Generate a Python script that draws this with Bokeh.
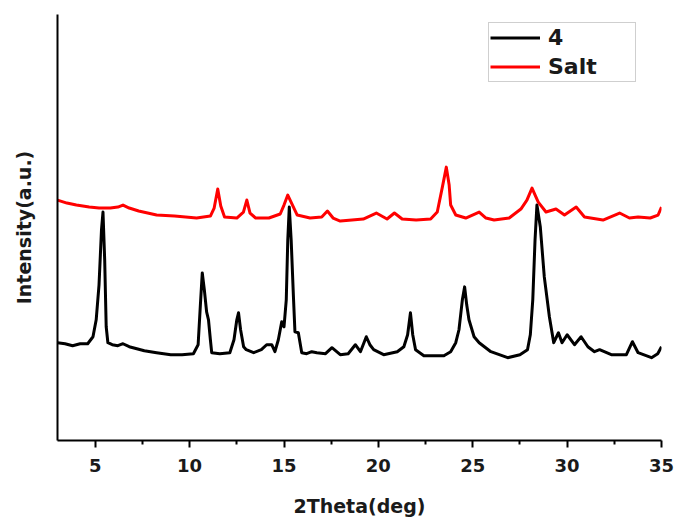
from bokeh.plotting import figure
from bokeh.models import Range1d, FixedTicker, Legend, LegendItem
from bokeh.embed import file_html
from bokeh.resources import INLINE

# Powder XRD patterns: compound 4 and the starting salt (stacked, arbitrary units)
two_theta_4 = [3.0, 3.4, 3.8, 4.2, 4.6, 4.88, 5.05, 5.2, 5.33, 5.41, 5.5, 5.58, 5.67, 5.9,
               6.2, 6.47, 6.8, 7.2, 7.6, 8.25, 9.0, 9.6, 10.2, 10.45, 10.57, 10.67, 10.78,
               10.9, 11.0, 11.1, 11.17, 11.6, 12.13, 12.35, 12.5, 12.59, 12.7, 12.86, 13.0,
               13.39, 13.8, 14.08, 14.35, 14.52, 14.7, 14.88, 15.0, 15.12, 15.2, 15.28,
               15.38, 15.5, 15.58, 15.76, 15.94, 16.2, 16.47, 16.74, 17.2, 17.54, 17.98,
               18.4, 18.78, 19.05, 19.36, 19.55, 19.75, 20.28, 21.0, 21.35, 21.55, 21.7,
               21.82, 21.97, 22.41, 23.47, 23.83, 24.1, 24.27, 24.45, 24.57, 24.68, 24.8,
               25.07, 25.34, 25.96, 26.85, 27.5, 27.9, 28.05, 28.18, 28.3, 28.4, 28.58,
               28.79, 29.06, 29.29, 29.54, 29.73, 30.0, 30.39, 30.74, 31.1, 31.45, 31.72,
               32.34, 33.14, 33.46, 33.76, 34.47, 34.8, 35.0]
intensity_4 = [98, 97, 95, 97, 97, 104, 121, 156, 211, 229, 181, 114, 98, 96,
               95, 97, 94, 92, 90, 88, 86, 86, 87, 96, 136, 168, 151,
               129, 121, 101, 88, 87, 88, 101, 121, 128, 111, 94, 91,
               88, 91, 96, 96, 89, 101, 119, 114, 141, 201, 234,
               201, 144, 109, 108, 88, 87, 89, 88, 87, 93, 86,
               87, 96, 89, 104, 96, 91, 86, 89, 94, 106, 128,
               106, 91, 85, 85, 89, 98, 111, 141, 154, 136, 121,
               104, 98, 89, 83, 86, 91, 106, 141, 201, 236, 214,
               164, 124, 98, 108, 98, 106, 96, 104, 94, 89, 91,
               86, 86, 99, 88, 83, 87, 94]

two_theta_salt = [3.0, 3.5, 4.0, 4.68, 5.2, 5.8, 6.2, 6.47, 6.8, 7.3, 8.25, 9.2, 10.37,
                  11.1, 11.3, 11.49, 11.65, 11.85, 12.5, 12.85, 13.03, 13.2, 13.5, 14.2,
                  14.8, 15.0, 15.2, 15.4, 15.7, 16.38, 17.0, 17.3, 17.6, 17.98, 18.6, 19.2,
                  19.89, 20.46, 20.85, 21.26, 22.0, 22.77, 23.12, 23.39, 23.6, 23.75, 23.83,
                  24.1, 24.63, 25.34, 25.7, 26.13, 26.93, 27.55, 27.87, 28.14, 28.47, 28.88,
                  29.41, 29.86, 30.48, 30.92, 31.9, 32.78, 33.3, 33.76, 34.4, 34.82, 35.0]
intensity_salt = [241, 238, 236, 234, 233, 233, 234, 236, 233, 230, 226, 225, 223,
                  225, 233, 252, 235, 224, 223, 229, 241, 228, 223, 223,
                  227, 236, 246, 238, 226, 223, 224, 230, 223, 220, 221, 222,
                  228, 222, 228, 222, 221, 222, 229, 254, 274, 256, 236,
                  226, 223, 229, 223, 221, 223, 232, 241, 253, 239, 229,
                  232, 226, 234, 224, 221, 228, 223, 224, 223, 226, 234]

tick_positions = [5, 10, 15, 20, 25, 30, 35]
minor_positions = [7.5, 12.5, 17.5, 22.5, 27.5, 32.5]

p = figure(width=678, height=519, x_range=Range1d(3, 35), y_range=Range1d(0, 427),
           output_backend="svg", toolbar_location=None,
           min_border_left=57, min_border_right=17, min_border_top=14, min_border_bottom=78)
p.outline_line_color = None
p.xgrid.visible = False
p.ygrid.visible = False
p.background_fill_color = "white"

r4 = p.line(two_theta_4, intensity_4, line_color="black", line_width=3, line_join="round")
rs = p.line(two_theta_salt, intensity_salt, line_color="#ff0000", line_width=3, line_join="round")

# bottom axis
xa = p.xaxis[0]
xa.ticker = FixedTicker(ticks=tick_positions, minor_ticks=minor_positions)
xa.axis_line_width = 2
xa.axis_line_color = "black"
xa.major_tick_line_width = 2
xa.major_tick_out = 7
xa.major_tick_in = 0
xa.minor_tick_line_width = 2
xa.minor_tick_out = 4
xa.minor_tick_in = 0
xa.major_label_text_font = "DejaVu Sans"
xa.major_label_text_font_style = "bold"
xa.major_label_text_font_size = "18px"
xa.major_label_text_color = "#1a1a1a"
xa.major_label_standoff = 11
xa.axis_label = "2Theta(deg)"
xa.axis_label_text_font = "DejaVu Sans"
xa.axis_label_text_font_style = "bold"
xa.axis_label_text_font_size = "19px"
xa.axis_label_text_color = "#1a1a1a"
xa.axis_label_standoff = 20

# left axis: line and title only
ya = p.yaxis[0]
ya.ticker = FixedTicker(ticks=[])
ya.axis_line_width = 2
ya.axis_line_color = "black"
ya.major_tick_out = 0
ya.major_tick_in = 0
ya.minor_tick_out = 0
ya.minor_tick_in = 0
ya.major_label_standoff = 0
ya.axis_label = "Intensity(a.u.)"
ya.axis_label_text_font = "DejaVu Sans"
ya.axis_label_text_font_style = "bold"
ya.axis_label_text_font_size = "19px"
ya.axis_label_text_color = "#1a1a1a"
ya.axis_label_standoff = 23

legend = Legend(items=[LegendItem(label="4", renderers=[r4]),
                       LegendItem(label="Salt", renderers=[rs])],
                location=(431, 358))
legend.border_line_color = "#a0a0a0"
legend.border_line_width = 1.5
legend.label_text_font = "DejaVu Sans"
legend.label_text_font_style = "bold"
legend.label_text_font_size = "22px"
legend.label_text_color = "#1a1a1a"
legend.glyph_width = 50
legend.glyph_height = 27
legend.label_height = 27
legend.label_width = 86
legend.label_standoff = 8
legend.padding = 1
legend.spacing = 2
legend.margin = 0
p.add_layout(legend, "center")

open("out.html", "w").write(file_html(p, INLINE))
